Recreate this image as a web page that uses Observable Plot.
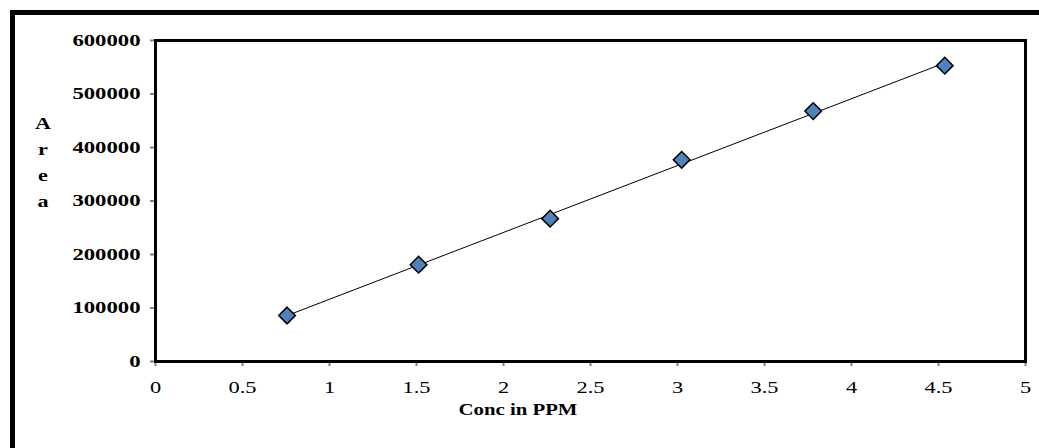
<!DOCTYPE html>
<html>
<head>
<meta charset="utf-8">
<script src="https://cdn.jsdelivr.net/npm/d3@7"></script>
<script src="https://cdn.jsdelivr.net/npm/@observablehq/plot@0.6"></script>
<style>
  html, body { margin: 0; padding: 0; background: #fff; }
  #wrap { position: relative; width: 1039px; height: 448px; overflow: hidden; background: #fff;
          font-family: "Liberation Serif", "Times New Roman", serif; color: #000; }
  #chart { position: absolute; left: 0; top: 0; }
  #outer { position: absolute; left: 10px; top: 10px; width: 1100px; height: 600px;
           border: 5px solid #000; box-sizing: border-box; pointer-events: none; }
  #ylab { position: absolute; left: 33px; top: 111px; width: 20px; text-align: center;
          font-weight: bold; font-size: 17px; line-height: 26px; transform: scaleX(1.3); }
  #xlab { position: absolute; left: 418px; top: 400px; width: 200px; text-align: center;
          font-weight: bold; font-size: 16px; line-height: 20px; transform: scaleX(1.3); }
</style>
</head>
<body>
<div id="wrap">
  <div id="chart"></div>
  <div id="ylab"></div>
  <div id="xlab"></div>
  <div id="outer"></div>
</div>
<script>
// Data
const conc = [0.756, 1.512, 2.268, 3.024, 3.78, 4.536];
const area = [86000, 181000, 267000, 377000, 468000, 553000];
const xTicks = [0, 0.5, 1, 1.5, 2, 2.5, 3, 3.5, 4, 4.5, 5];
const yTicks = [0, 100000, 200000, 300000, 400000, 500000, 600000];
const xLabel = "Conc in PPM";
const yLabelLetters = ["A", "r", "e", "a"];

const data = conc.map((c, i) => ({conc: c, area: area[i]}));

const chart = Plot.plot({
  width: 1039,
  height: 448,
  marginLeft: 155,
  marginRight: 14,
  marginTop: 40,
  marginBottom: 87,
  style: {background: "transparent", fontFamily: "'Liberation Serif', 'Times New Roman', serif", fontSize: "16px", color: "black"},
  x: {domain: [0, 5], ticks: xTicks, tickFormat: d => String(d), tickSize: 5, tickPadding: 15, label: null},
  y: {domain: [0, 600000], ticks: yTicks, tickFormat: d => String(d), tickSize: 5, tickPadding: 10, label: null},
  marks: [
    Plot.frame({stroke: "black", strokeWidth: 3}),
    Plot.linearRegressionY(data, {x: "conc", y: "area", ci: 0, stroke: "black", strokeWidth: 1}),
    Plot.dot(data, {x: "conc", y: "area", symbol: "diamond2", r: 7.5, fill: "#4f81bd", stroke: "black", strokeWidth: 1.5})
  ]
});
document.getElementById("chart").appendChild(chart);

// styling: gray ticks, stretched serif labels
function stretch(sel, s, bold) {
  chart.querySelectorAll(sel).forEach(t => {
    const x = parseFloat(t.getAttribute("x")) || 0;
    const tr = t.getAttribute("transform") || "";
    t.setAttribute("transform", `${tr} translate(${x},0) scale(${s},1) translate(${-x},0)`);
    if (bold) t.setAttribute("font-weight", "bold");
  });
}
stretch('[aria-label="y-axis tick label"] text', 1.42, true);
stretch('[aria-label="x-axis tick label"] text', 1.4, false);
chart.querySelectorAll('[aria-label="y-axis tick"], [aria-label="x-axis tick"]').forEach(g => {
  g.setAttribute("stroke", "#808080");
  g.setAttribute("stroke-width", "2");
  g.querySelectorAll("path, line").forEach(p => { p.setAttribute("stroke", "#808080"); });
});

document.getElementById("ylab").innerHTML = yLabelLetters.join("<br>");
document.getElementById("xlab").textContent = xLabel;
</script>
</body>
</html>
